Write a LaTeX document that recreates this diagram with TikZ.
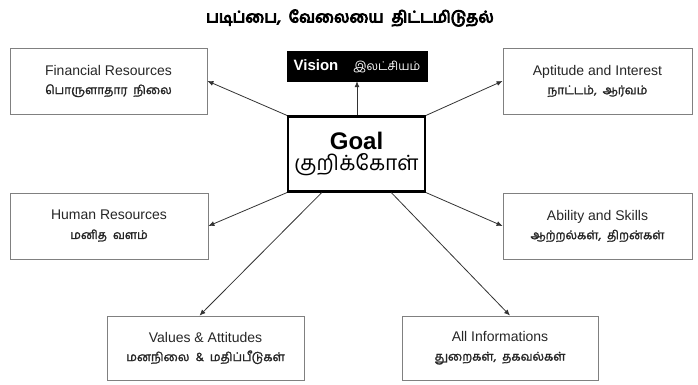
\documentclass[tikz,border=0pt]{standalone}
\usepackage{fontspec}
\setmainfont{Liberation Sans}
\newfontfamily\tamil[Script=Tamil]{Hind Madurai}
\usetikzlibrary{arrows.meta,calc}
\newcommand{\emb}[2]{\special{pdf:code q 2 Tr #1 w}#2\special{pdf:code Q}}
\tikzset{
  sidebox/.style={draw=black!50, line width=0.8pt, rectangle, align=center, inner sep=2pt, text=black!85, font=\fontsize{14}{19}\selectfont},
  conn/.style={draw=black!80, line width=0.8pt, -{Latex[length=6pt,width=5pt]}},
}
\newcommand{\tsub}[1]{{\tamil\fontsize{12}{14}\selectfont\spaceskip=6pt\emb{0.22}{#1}}}
\begin{document}
\begin{tikzpicture}[x=1pt,y=-1pt]
\useasboundingbox (0,0) rectangle (698,385);
\node (title) at (350,18) {\tamil\fontsize{16}{18}\selectfont\spaceskip=8pt\emb{0.9}{படிப்பை, வேலையை திட்டமிடுதல்}};
\node[fill=black, draw=black, minimum width=140pt, minimum height=30pt, inner sep=0pt, text=white] (vision) at (357,66)
  {\bfseries\fontsize{15}{17}\selectfont Vision\quad{\tamil\mdseries\fontsize{12}{14}\selectfont இலட்சியம்}};
\node[draw=black, line width=2.2pt, minimum width=137pt, minimum height=75pt, align=center, inner sep=0pt] (goal) at (356.5,154)
  {\bfseries\fontsize{24}{28}\selectfont Goal\\[3pt]{\tamil\mdseries\fontsize{21}{26}\selectfont குறிக்கோள்}};
\node[sidebox, minimum width=197pt, minimum height=66pt] (fin) at (108.5,81) {Financial Resources\\\tsub{பொருளாதார நிலை}};
\node[sidebox, minimum width=189pt, minimum height=66pt] (apt) at (597.5,81) {Aptitude and Interest\\\tsub{நாட்டம், ஆர்வம்}};
\node[sidebox, minimum width=198pt, minimum height=66pt] (hum) at (109,226) {Human Resources\\\tsub{மனித வளம்}};
\node[sidebox, minimum width=189pt, minimum height=66pt] (abl) at (597.5,226) {Ability and Skills\\\tsub{ஆற்றல்கள், திறன்கள்}};
\node[sidebox, minimum width=197pt, minimum height=64pt] (val) at (205.5,348) {Values \& Attitudes\\\tsub{மனநிலை \& மதிப்பீடுகள்}};
\node[sidebox, minimum width=196pt, minimum height=64pt] (info) at (500,348) {All Informations\\\tsub{துறைகள், தகவல்கள்}};
\draw[conn] (goal.north) ++(0.5,0) coordinate (gn) -- (gn |- vision.south);
\draw[conn] (goal.north west) -- (fin.east);
\draw[conn] (goal.north east) -- (apt.west);
\draw[conn] (goal.south west) -- (hum.east);
\draw[conn] (goal.south east) -- (abl.west);
\coordinate (gvl) at ($(goal.south west)!0.25!(goal.south east)$);
\coordinate (gil) at ($(goal.south west)!0.75!(goal.south east)$);
\coordinate (vt) at ($(val.north)+(-6,0)$);
\coordinate (it) at ($(info.north)+(10,0)$);
\draw[conn] (gvl) -- (vt);
\draw[conn] (gil) -- (it);
\end{tikzpicture}
\end{document}
